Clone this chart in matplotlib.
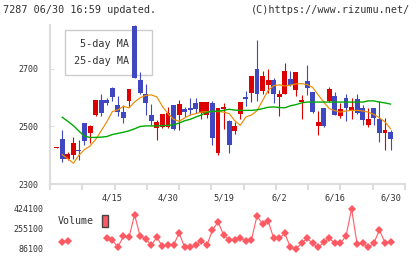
import numpy as np
import matplotlib
matplotlib.use("Agg")
import matplotlib.pyplot as plt
from matplotlib.lines import Line2D
from matplotlib.patches import Patch

nan = np.nan

# daily candles, 4/2 .. 6/30 (index = trading day)
opens  = [2425, 2458, 2386, 2402, 2419, 2512, 2477, 2539, 2591, 2593,
          2634, 2574, 2550, 2588, 2850, 2661, 2614, 2539, 2495, 2498,
          2499, 2574, 2539, 2560, 2564, 2583, 2548, 2539, 2582, 2409,
          2560, 2518, 2485, 2545, 2599, 2618, 2699, 2624, 2646, 2661,
          2603, 2612, 2664, 2628, 2585, 2658, 2620, 2502, 2564, 2589,
          2606, 2537, 2599, 2556, 2595, 2564, 2506, 2564, 2525, 2479, 2481]
highs  = [2428, 2489, 2411, 2463, 2452, 2512, 2505, 2591, 2614, 2599,
          2637, 2606, 2574, 2631, 2854, 2690, 2649, 2579, 2522, 2542,
          2568, 2574, 2591, 2568, 2599, 2599, 2585, 2585, 2588, 2564,
          2582, 2522, 2516, 2585, 2622, 2676, 2802, 2692, 2699, 2669,
          2626, 2721, 2692, 2690, 2608, 2715, 2620, 2554, 2564, 2637,
          2620, 2582, 2614, 2599, 2614, 2574, 2564, 2564, 2589, 2530, 2487]
lows   = [2425, 2377, 2383, 2388, 2382, 2437, 2444, 2538, 2536, 2574,
          2590, 2535, 2513, 2568, 2669, 2614, 2541, 2504, 2454, 2495,
          2495, 2487, 2487, 2533, 2539, 2548, 2527, 2530, 2437, 2402,
          2492, 2409, 2473, 2525, 2571, 2585, 2589, 2614, 2618, 2583,
          2535, 2612, 2641, 2606, 2527, 2611, 2548, 2472, 2498, 2585,
          2541, 2530, 2520, 2527, 2545, 2506, 2498, 2506, 2446, 2419, 2419]
closes = [2428, 2386, 2404, 2443, 2414, 2451, 2501, 2591, 2548, 2583,
          2602, 2550, 2531, 2631, 2669, 2618, 2583, 2519, 2516, 2542,
          2548, 2490, 2578, 2550, 2556, 2562, 2585, 2585, 2461, 2564,
          2568, 2437, 2502, 2585, 2597, 2676, 2614, 2676, 2661, 2614,
          2612, 2692, 2643, 2690, 2593, 2635, 2550, 2516, 2502, 2629,
          2541, 2560, 2565, 2568, 2548, 2524, 2527, 2531, 2479, 2487, 2458]

ma5 = [nan, 2402, 2388, 2372, 2400, 2420, 2432, 2455, 2485, 2516,
       2552, 2558, 2570, 2565, 2585, 2600, 2608, 2610, 2603, 2570,
       2545, 2525, 2518, 2530, 2540, 2545, 2550, 2552, 2552, 2552,
       2550, 2545, 2520, 2504, 2533, 2540, 2555, 2590, 2625, 2642,
       2645, 2641, 2644, 2648, 2649, 2646, 2636, 2610, 2585, 2562,
       2555, 2550, 2554, 2556, 2556, 2554, 2550, 2542, 2530, 2516, 2492]
ma25 = [nan, 2532, 2518, 2503, 2484, 2466, 2462, 2462, 2463, 2465,
        2472, 2476, 2480, 2485, 2492, 2500, 2502, 2502, 2502, 2503,
        2504, 2506, 2512, 2520, 2525, 2533, 2540, 2550, 2553, 2553,
        2556, 2560, 2557, 2556, 2556, 2556, 2558, 2562, 2567, 2568,
        2566, 2565, 2572, 2576, 2582, 2585, 2585, 2585, 2585, 2585,
        2585, 2585, 2585, 2585, 2585, 2585, 2589, 2589, 2585, 2582, 2578]

volume = [nan, 134000, 148000, nan, nan, nan, nan, nan, nan, 171000,
          151000, 95000, 185000, 177000, 367000, 185000, 162000, 109000, 177000, 100000,
          114000, 109000, 213000, 92000, 92000, 109000, 148000, 109000, 237000, 307000,
          197000, 152000, 152000, 168000, 148000, 154000, 357000, 289000, 317000, 168000,
          168000, 210000, 92000, 78000, 126000, 168000, 126000, 92000, 134000, 168000,
          126000, 126000, 188000, 416000, 117000, 126000, 92000, 126000, 238000, 131000, 134000]

date_pos = [10, 20, 30, 40, 50, 60]
date_labels = ["4/15", "4/30", "5/19", "6/2", "6/16", "6/30"]
price_ticks = [2300, 2500, 2700]
vol_ticks = [86100, 255100, 424100]

RED = "#dd0000"
BLUE = "#3f48c0"
ORANGE = "#f08c00"
GREEN = "#00aa00"
VOLC = "#ff5a64"
GRID = "#dddddd"
TXT = "#333333"

plt.rcParams["font.family"] = ["DejaVu Sans Mono"]

fig = plt.figure(figsize=(4.2, 2.59), dpi=100)
ax = fig.add_axes([50 / 420, 75 / 259, 355 / 420, 159 / 259])
axv = fig.add_axes([50 / 420, 6 / 259, 355 / 420, 50 / 259], sharex=ax)

x = np.arange(len(opens))
o = np.array(opens, dtype=float)
c = np.array(closes, dtype=float)
up = c >= o
cols = [RED if u else BLUE for u in up]

ax.vlines(x, lows, highs, colors=cols, linewidth=0.8, zorder=3)
ax.bar(x, np.maximum(np.abs(c - o), 4), bottom=np.minimum(o, c), width=0.88,
       color=cols, linewidth=0, zorder=4)

ax.plot(x, ma5, color=ORANGE, linewidth=0.85, zorder=5)
ax.plot(x, ma25, color=GREEN, linewidth=1.0, zorder=5)

xmin, xmax = -1.2, 62.6
ax.set_xlim(xmin, xmax)
ax.set_ylim(2300, 2853)

for s in ["top", "right"]:
    ax.spines[s].set_visible(False)
for s in ["left", "bottom"]:
    ax.spines[s].set_color(GRID)
    ax.spines[s].set_linewidth(1.5)

ax.set_yticks(price_ticks)
ax.set_yticklabels([str(t) for t in price_ticks])
ax.tick_params(axis="y", direction="in", length=3, color=GRID, pad=8,
               labelsize=6, labelcolor=TXT)
ax.set_xticks(date_pos)
ax.set_xticks(np.linspace(xmin, xmax, 12), minor=True)
ax.tick_params(axis="x", which="major", length=0, labelbottom=False)
ax.tick_params(axis="x", which="minor", direction="out", length=4, width=1.5, color=GRID)

leg = ax.legend(handles=[Line2D([], [], color="none"), Line2D([], [], color="none")],
                labels=["5-day MA", "25-day MA"], markerfirst=False,
                loc="upper left", bbox_to_anchor=(15 / 355, 154 / 159),
                borderaxespad=0, borderpad=0.9, handlelength=1.0, handletextpad=0.3,
                labelspacing=0.65, fontsize=7.3, fancybox=False, framealpha=1,
                edgecolor="#cccccc", labelcolor=TXT)
leg.get_frame().set_linewidth(1)
leg.set_zorder(2)

# date labels sit between the two panels
for p, lab in zip(date_pos, date_labels):
    ax.text(p, -0.09, lab, transform=ax.get_xaxis_transform(), ha="center",
            va="center", fontsize=6.2, color=TXT)

# volume panel
axv.plot(x, volume, color=VOLC, linewidth=0.8, marker="D", markersize=3.6,
         markeredgewidth=0, zorder=3)
axv.set_ylim(86100 - 5 * 8450, 424100 + 5 * 8450)
for s in axv.spines.values():
    s.set_visible(False)
axv.set_yticks(vol_ticks)
axv.set_yticklabels([str(t) for t in vol_ticks])
axv.tick_params(axis="y", length=0, pad=4.5, labelsize=6, labelcolor=TXT)
axv.tick_params(axis="x", length=0, labelbottom=False, which="both")

axv.legend(handles=[Patch(facecolor=VOLC, edgecolor="#444444", linewidth=1)],
           labels=["Volume"], markerfirst=False, loc="center left",
           bbox_to_anchor=(8 / 355, 0.64), borderaxespad=0, borderpad=0,
           handlelength=0.6, handleheight=1.6, handletextpad=0.8,
           fontsize=7.2, frameon=False, labelcolor=TXT)

fig.text(3 / 420, 1 - 10 / 259, "7287 06/30 16:59 updated.", ha="left", va="center",
         fontsize=7.3, color=TXT)
fig.text(410 / 420, 1 - 10 / 259, "(C)https://www.rizumu.net/", ha="right", va="center",
         fontsize=7.3, color=TXT)

fig.savefig("out.png", dpi=100)
